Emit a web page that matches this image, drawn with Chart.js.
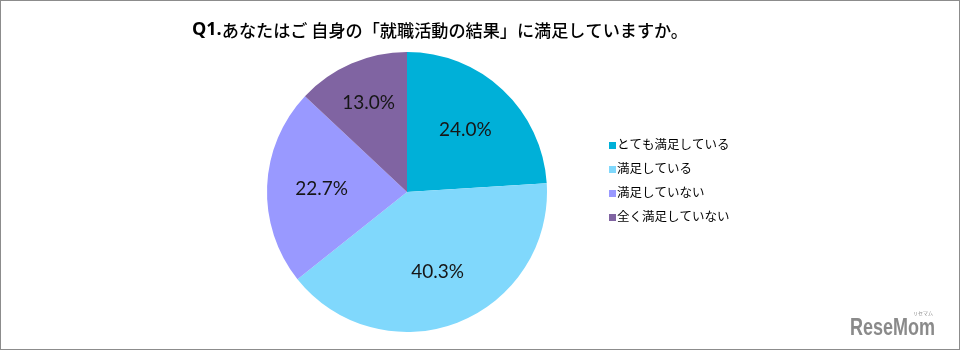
<!DOCTYPE html>
<html>
<head>
<meta charset="utf-8">
<script src="https://cdn.jsdelivr.net/npm/chart.js@4"></script>
<style>
  html, body { margin: 0; padding: 0; background: #fff; }
  #wrap { width: 960px; height: 350px; position: relative; }
</style>
</head>
<body>
<div id="wrap"><canvas id="c" width="960" height="350"></canvas></div>
<script>
// Survey: satisfaction with job-hunting results
const titleLead = 'Q1.';
const titleText = 'あなたはご 自身の「就職活動の結果」に満足していますか。';
const categories = ['とても満足している', '満足している', '満足していない', '全く満足していない'];
const shares = [24.0, 40.3, 22.7, 13.0];
const sliceColors = ['#00b0d8', '#80d8fc', '#9999ff', '#8064a2'];

const JP = '"Noto Sans CJK JP", "Noto Sans", sans-serif';
const LATIN = 'Lato, "Open Sans", "Liberation Sans", sans-serif';

// Frame, title, percentage labels, legend and logo
const decor = {
  id: 'decor',
  beforeDraw(chart) {
    const ctx = chart.ctx;
    ctx.save();
    ctx.fillStyle = '#fff';
    ctx.fillRect(0, 0, chart.width, chart.height);
    ctx.restore();
  },
  afterDraw(chart) {
    const ctx = chart.ctx;
    ctx.save();
    // outer frame
    ctx.strokeStyle = '#8c8c8c';
    ctx.lineWidth = 1;
    ctx.strokeRect(0.5, 0.5, chart.width - 1, chart.height - 1);

    // title: bold lead, then the question, fitted between x=192 and x=688
    ctx.textBaseline = 'middle';
    ctx.fillStyle = '#000';
    ctx.textAlign = 'left';
    const leadFont = 'bold 18px "Open Sans", "Liberation Sans", sans-serif';
    const bodyFont = '500 17.5px ' + JP;
    ctx.font = leadFont;
    const leadW = ctx.measureText(titleLead).width;
    ctx.font = bodyFont;
    const restW = ctx.measureText(titleText).width;
    const sx = Math.min(1, (688 - 192 - leadW) / restW);
    ctx.font = leadFont;
    ctx.fillText(titleLead, 192, 30);
    ctx.font = bodyFont;
    ctx.save();
    ctx.translate(192 + leadW, 30);
    ctx.scale(sx, 1);
    ctx.fillText(titleText, 0, 0);
    ctx.restore();

    // slice labels; thin slices push their label further out
    const meta = chart.getDatasetMeta(0);
    ctx.font = '19px ' + LATIN;
    ctx.textAlign = 'center';
    ctx.fillStyle = '#161616';
    meta.data.forEach((arc, i) => {
      const p = arc.getProps(['x', 'y', 'startAngle', 'endAngle', 'outerRadius']);
      const mid = (p.startAngle + p.endAngle) / 2;
      const span = p.endAngle - p.startAngle;
      const r = p.outerRadius * (span < Math.PI * 0.35 ? 0.69 : 0.61);
      ctx.fillText(shares[i].toFixed(1) + '%', p.x + Math.cos(mid) * r, p.y + Math.sin(mid) * r);
    });

    // legend
    ctx.textAlign = 'left';
    ctx.font = '12.5px ' + JP;
    categories.forEach((lab, i) => {
      const y = 144 + i * 24;
      ctx.fillStyle = sliceColors[i];
      ctx.fillRect(609, y - 2, 7, 7);
      ctx.fillStyle = '#000';
      ctx.fillText(lab, 617, y);
    });

    // logo
    ctx.fillStyle = '#8a8a8a';
    ctx.textAlign = 'left';
    ctx.font = 'bold 23px "Liberation Sans", sans-serif';
    const logoW = ctx.measureText('ReseMom').width;
    ctx.save();
    ctx.translate(850, 329);
    ctx.scale(85 / logoW, 1);
    ctx.fillText('ReseMom', 0, 0);
    ctx.restore();
    ctx.font = '5px ' + JP;
    ctx.textAlign = 'right';
    ctx.fillText('リセマム', 933, 313);
    ctx.restore();
  }
};

new Chart(document.getElementById('c'), {
  type: 'pie',
  data: {
    labels: categories,
    datasets: [{
      data: shares,
      backgroundColor: sliceColors,
      borderWidth: 0
    }]
  },
  options: {
    responsive: false,
    animation: false,
    layout: { padding: { left: 267, right: 413, top: 52, bottom: 18 } },
    plugins: {
      legend: { display: false },
      title: { display: false },
      tooltip: { enabled: false }
    }
  },
  plugins: [decor]
});
</script>
</body>
</html>
